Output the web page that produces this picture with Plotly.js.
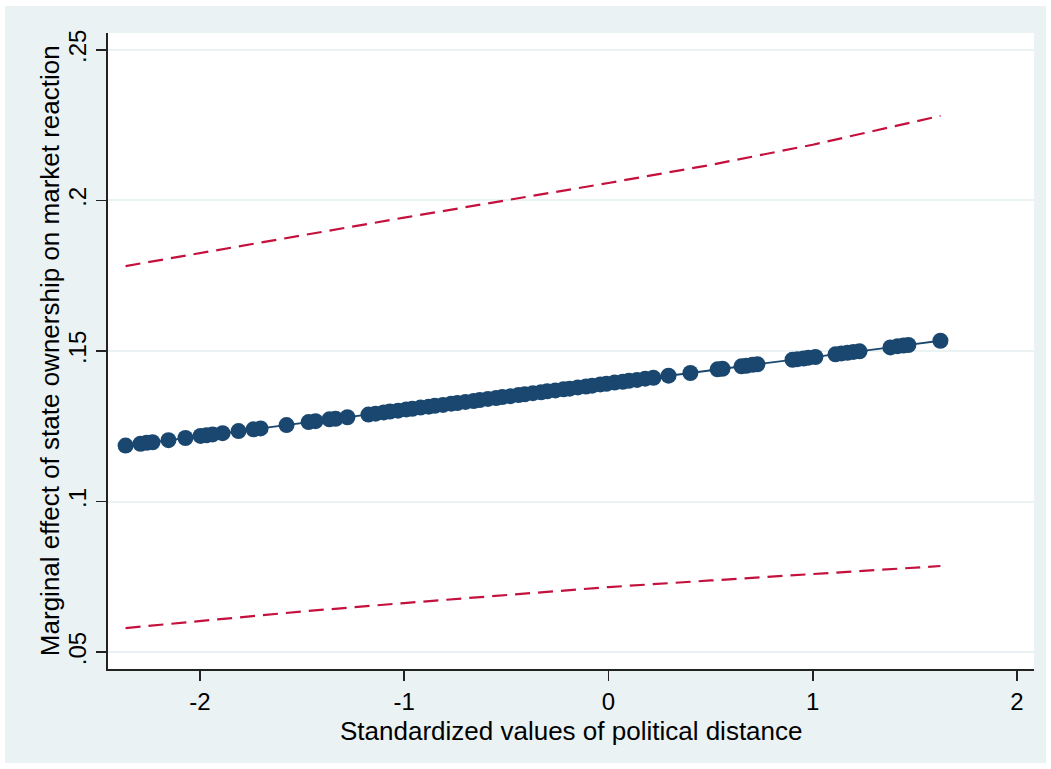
<!DOCTYPE html>
<html>
<head>
<meta charset="utf-8">
<script src="https://cdn.plot.ly/plotly-3.0.1.min.js"></script>
<style>
html,body{margin:0;padding:0;background:#ffffff;}
#chart{position:absolute;left:5px;top:6px;width:1041px;height:757px;}
</style>
</head>
<body>
<div id="chart"></div>
<script>
// Observations: standardized political distance and marginal effect
var distX = [-2.364,-2.291,-2.261,-2.232,-2.154,-2.071,-1.997,-1.968,-1.938,-1.889,-1.811,-1.738,-1.703,-1.576,-1.468,-1.434,-1.366,-1.336,-1.278,
  -1.175,-1.14,-1.10,-1.07,-1.03,-0.99,-0.96,-0.92,-0.88,-0.85,-0.81,-0.77,-0.74,-0.70,-0.66,-0.63,-0.59,-0.55,-0.52,-0.48,-0.44,-0.41,-0.37,-0.33,-0.30,-0.26,-0.22,-0.19,-0.15,-0.11,-0.08,-0.04,-0.01,0.03,0.07,0.10,0.14,0.18,0.22,
  0.294,0.401,0.534,0.558,0.651,0.675,0.705,0.729,0.901,0.925,0.955,0.979,1.013,1.111,1.140,1.170,1.199,1.229,1.380,1.415,1.444,1.468,1.625];
var effectY = [0.1186,0.1192,0.1195,0.1197,0.1204,0.1211,0.1218,0.1220,0.1223,0.1227,0.1234,0.1240,0.1243,0.1254,0.1264,0.1267,0.1273,0.1275,0.1280,
  0.1289,0.1292,0.1296,0.1299,0.1302,0.1306,0.1308,0.1312,0.1315,0.1318,0.1321,0.1325,0.1327,0.1331,0.1334,0.1337,0.1341,0.1344,0.1347,0.1350,0.1354,0.1356,0.1360,0.1363,0.1366,0.1369,0.1373,0.1375,0.1379,0.1382,0.1385,0.1389,0.1391,0.1395,0.1398,0.1401,0.1404,0.1408,0.1411,
  0.1418,0.1427,0.1439,0.1441,0.1449,0.1451,0.1454,0.1456,0.1471,0.1473,0.1475,0.1478,0.1480,0.1489,0.1492,0.1494,0.1497,0.1499,0.1512,0.1516,0.1518,0.1520,0.1534];

// Confidence interval bounds
var ciX     = [-2.364,-2.0,-1.5,-1.0,-0.5,0.0,0.5,1.0,1.625];
var ciUpper = [0.1782,0.1824,0.1884,0.1943,0.2000,0.2058,0.2118,0.2185,0.2281];
var ciLower = [0.0580,0.0604,0.0635,0.0663,0.0690,0.0716,0.0738,0.0759,0.0786];

// Axis ticks and titles
var xTickVals = [-2,-1,0,1,2];
var xTickText = ['-2','-1','0','1','2'];
var yTickVals = [0.05,0.10,0.15,0.20,0.25];
var yTickText = ['.05','.1','.15','.2','.25'];
var xTitle = 'Standardized values of political distance';
var yTitle = 'Marginal effect of state ownership on market reaction';

var navy = '#1a476f';
var red = '#c4103c';
var font = 'Liberation Sans, Arial, sans-serif';

var traces = [
  {x: ciX, y: ciUpper, mode: 'lines', line: {color: red, width: 2.2, dash: '15px,8px'}, hoverinfo: 'skip'},
  {x: ciX, y: ciLower, mode: 'lines', line: {color: red, width: 2.2, dash: '15px,8px'}, hoverinfo: 'skip'},
  {x: distX, y: effectY, mode: 'lines+markers', line: {color: navy, width: 1.8},
   marker: {color: navy, size: 16, line: {width: 0}}}
];

var layout = {
  width: 1041, height: 757,
  paper_bgcolor: '#eaf2f3',
  plot_bgcolor: '#ffffff',
  showlegend: false,
  margin: {l: 103, r: 12, t: 27, b: 94, pad: 0},
  font: {family: font, color: '#000000', size: 25},
  xaxis: {
    range: [-2.450, 2.083],
    tickvals: xTickVals, ticktext: xTickText,
    ticks: 'outside', ticklen: 10, tickwidth: 1.5, tickcolor: '#222222',
    showline: true, linecolor: '#222222', linewidth: 2,
    showgrid: false, zeroline: false, automargin: false,
    tickfont: {family: font, size: 24, color: '#000000'}
  },
  yaxis: {
    range: [0.0444, 0.2556],
    tickvals: yTickVals, ticktext: yTickText,
    tickangle: -90,
    ticks: 'outside', ticklen: 10, tickwidth: 1.5, tickcolor: '#222222',
    showline: true, linecolor: '#222222', linewidth: 2,
    showgrid: true, gridcolor: '#eaf2f3', gridwidth: 2,
    zeroline: false, automargin: false,
    tickfont: {family: font, size: 24, color: '#000000'}
  },
  annotations: [
    {text: xTitle, xref: 'paper', yref: 'paper', x: 0.5, y: -0.0975, xanchor: 'center', yanchor: 'middle',
     showarrow: false, font: {family: font, size: 26, color: '#000000'}},
    {text: yTitle, xref: 'paper', yref: 'paper', x: -0.0625, y: 0.5, xanchor: 'center', yanchor: 'middle',
     textangle: -90, showarrow: false, font: {family: font, size: 26, color: '#000000'}}
  ]
};

Plotly.newPlot('chart', traces, layout, {displayModeBar: false, staticPlot: true});
</script>
</body>
</html>
